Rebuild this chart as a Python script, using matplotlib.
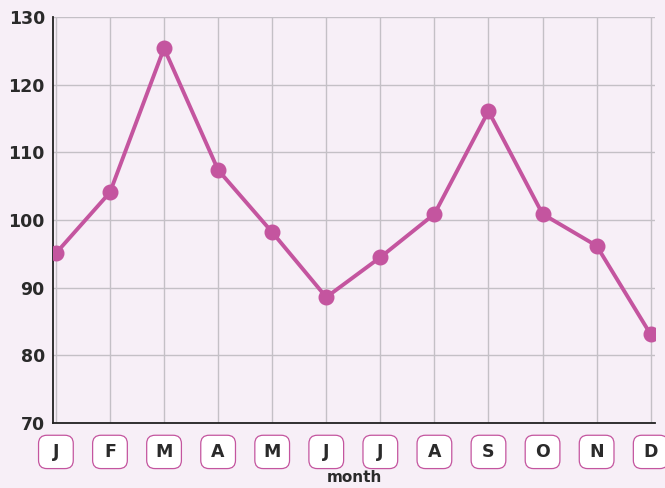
import matplotlib.pyplot as plt
from matplotlib.offsetbox import AnnotationBbox, DrawingArea
from matplotlib.patches import FancyBboxPatch
from matplotlib.text import Text

months = ["J", "F", "M", "A", "M", "J", "J", "A", "S", "O", "N", "D"]
values = [95.1, 104.1, 125.4, 107.4, 98.2, 88.6, 94.5, 100.9, 116.1, 100.9, 96.2, 83.1]
y_ticks = [70, 80, 90, 100, 110, 120, 130]

BG = "#f7eff7"
LINE = "#c4559f"
TXT = "#2a2a2a"

fig = plt.figure(figsize=(6.65, 4.88), dpi=100, facecolor=BG)
ax = fig.add_axes([0.08, 0.133, 0.905, 0.832], facecolor=BG)

x = list(range(len(months)))
ax.plot(x, values, color=LINE, linewidth=2.8, marker="o", markersize=10.5,
        markerfacecolor=LINE, markeredgecolor=LINE, zorder=3)

ax.set_xlim(-0.05, 11.08)
ax.set_ylim(70, 130)
ax.set_yticks(y_ticks)
ax.set_xticks(x)
ax.set_xticklabels([])
ax.grid(True, color="#c4c0c6", linewidth=1.0)
ax.set_axisbelow(True)

for s in ["top", "right"]:
    ax.spines[s].set_visible(False)
for s in ["left", "bottom"]:
    ax.spines[s].set_color("#222222")
    ax.spines[s].set_linewidth(1.3)

ax.tick_params(axis="y", length=0, pad=6, labelsize=12.5, labelcolor=TXT)
ax.tick_params(axis="x", length=0)
for lab in ax.get_yticklabels():
    lab.set_fontweight("bold")

# rounded month boxes, all the same size
bw, bh = 27, 26
for i, m in enumerate(months):
    da = DrawingArea(bw, bh, 0, 0)
    da.add_artist(FancyBboxPatch((1, 1), bw - 2, bh - 2,
                                 boxstyle="round,pad=0,rounding_size=6",
                                 facecolor="white", edgecolor=LINE, linewidth=0.9))
    da.add_artist(Text(bw / 2, bh / 2, m, ha="center", va="center",
                       fontsize=12.5, fontweight="bold", color=TXT))
    ab = AnnotationBbox(da, (i, -0.071), xycoords=("data", "axes fraction"),
                        frameon=False, pad=0, box_alignment=(0.5, 0.5),
                        annotation_clip=False)
    ax.add_artist(ab)

ax.text(0.5, -0.134, "month", transform=ax.transAxes, ha="center", va="center",
        fontsize=11, fontweight="bold", color=TXT)

fig.savefig("out.png", dpi=100, facecolor=BG)
